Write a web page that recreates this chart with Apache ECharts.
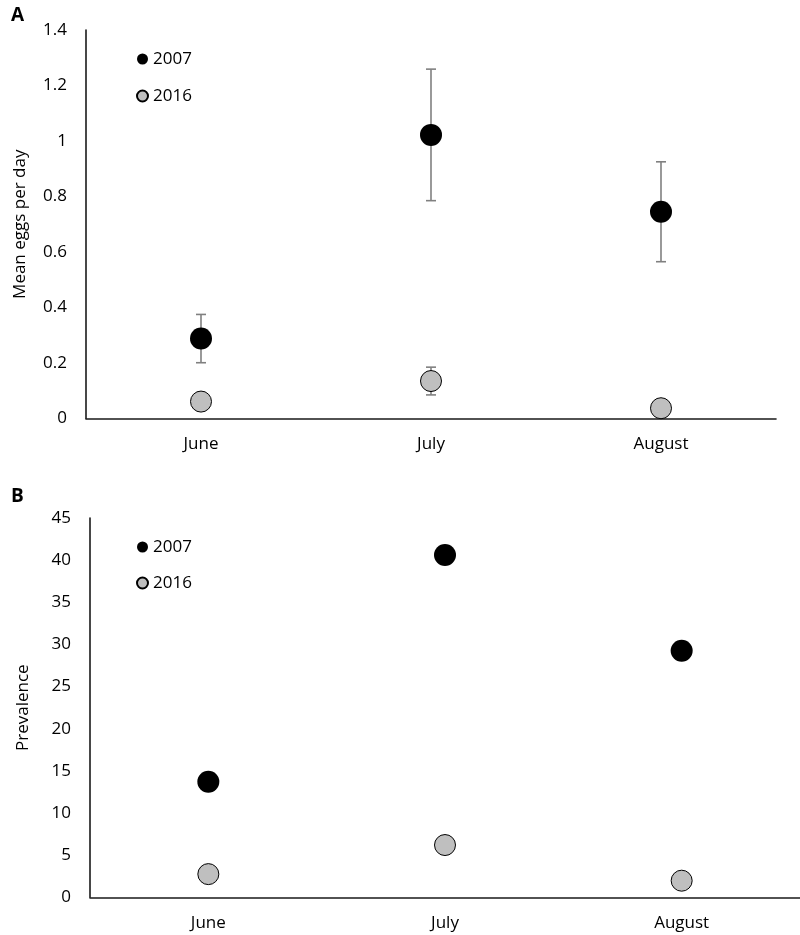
<!DOCTYPE html>
<html>
<head>
<meta charset="utf-8">
<script src="https://cdn.jsdelivr.net/npm/echarts@6/dist/echarts.min.js"></script>
<style>
html,body{margin:0;padding:0;background:#fff;}
#chart{width:800px;height:935px;}
</style>
</head>
<body>
<div id="chart"></div>
<script>
// ---- data ----
var months = ['June', 'July', 'August'];
var eggs2007 = [0.288, 1.022, 0.745];
var eggs2007Err = [0.087, 0.237, 0.18];
var eggs2016 = [0.061, 0.135, 0.037];
var eggs2016Err = [null, 0.05, null];
var prev2007 = [13.7, 40.6, 29.25];
var prev2016 = [2.75, 6.2, 1.97];
var eggsTicks = { min: 0, max: 1.4, interval: 0.2 };
var prevTicks = { min: 0, max: 45, interval: 5 };

var FONT = 'Open Sans';
var FS = 17;
var chart = echarts.init(document.getElementById('chart'), null, { renderer: 'canvas' });

function errData(vals, errs) {
  var out = [];
  for (var i = 0; i < vals.length; i++) {
    if (errs[i] != null) out.push([i, vals[i] - errs[i], vals[i] + errs[i]]);
  }
  return out;
}
function errRender(params, api) {
  var x = api.value(0);
  var lo = api.coord([x, api.value(1)]);
  var hi = api.coord([x, api.value(2)]);
  var w = 5;
  var st = { stroke: '#808080', lineWidth: 1.6 };
  return {
    type: 'group',
    children: [
      { type: 'line', shape: { x1: lo[0], y1: lo[1], x2: hi[0], y2: hi[1] }, style: st },
      { type: 'line', shape: { x1: lo[0] - w, y1: lo[1], x2: lo[0] + w, y2: lo[1] }, style: st },
      { type: 'line', shape: { x1: hi[0] - w, y1: hi[1], x2: hi[0] + w, y2: hi[1] }, style: st }
    ]
  };
}

function xAx(gi) {
  return {
    type: 'category', gridIndex: gi, data: months, boundaryGap: true,
    axisLine: { lineStyle: { color: '#1a1a1a', width: 1.6 } },
    axisTick: { show: false },
    axisLabel: { color: '#000', fontFamily: FONT, fontSize: FS, margin: 17 },
    splitLine: { show: false }
  };
}
function yAx(gi, t, name, gap) {
  return {
    type: 'value', gridIndex: gi, min: t.min, max: t.max, interval: t.interval,
    name: name, nameLocation: 'middle', nameGap: gap, nameRotate: 90,
    nameTextStyle: { color: '#000', fontFamily: FONT, fontSize: FS },
    axisLine: { show: true, lineStyle: { color: '#1a1a1a', width: 1.6 } },
    axisTick: { show: false },
    axisLabel: { color: '#000', fontFamily: FONT, fontSize: FS, margin: 19 },
    splitLine: { show: false }
  };
}
var s2007 = { color: '#000000', opacity: 1 };
var s2016 = { color: '#BFBFBF', borderColor: '#000', borderWidth: 1, opacity: 1 };

var option = {
  backgroundColor: '#fff',
  animation: false,
  textStyle: { fontFamily: FONT },
  title: [
    { text: 'A', left: 6, top: 1, textStyle: { fontFamily: FONT, fontSize: 19, fontWeight: 'bold', color: '#000' } },
    { text: 'B', left: 6, top: 482, textStyle: { fontFamily: FONT, fontSize: 19, fontWeight: 'bold', color: '#000' } }
  ],
  legend: [
    { orient: 'vertical', left: 131, top: 44, itemWidth: 11, itemHeight: 11, itemGap: 17, itemTextGap: 5, icon: 'circle',
      data: ['2007', '2016'], textStyle: { fontFamily: FONT, fontSize: FS, color: '#000', lineHeight: 20 }, selectedMode: false },
    { orient: 'vertical', left: 131, top: 532, itemWidth: 11, itemHeight: 11, itemGap: 16, itemTextGap: 5, icon: 'circle',
      data: ['2007', '2016'], textStyle: { fontFamily: FONT, fontSize: FS, color: '#000', lineHeight: 20 }, selectedMode: false }
  ],
  grid: [
    { left: 86, top: 30, width: 690, height: 388.5 },
    { left: 90, top: 518, width: 711, height: 379.3 }
  ],
  xAxis: [xAx(0), xAx(1)],
  yAxis: [yAx(0, eggsTicks, 'Mean eggs per day', 57), yAx(1, prevTicks, 'Prevalence', 58)],
  series: [
    { type: 'custom', xAxisIndex: 0, yAxisIndex: 0, renderItem: errRender, data: errData(eggs2007, eggs2007Err), z: 1, silent: true },
    { type: 'custom', xAxisIndex: 0, yAxisIndex: 0, renderItem: errRender, data: errData(eggs2016, eggs2016Err), z: 1, silent: true },
    { name: '2007', type: 'scatter', xAxisIndex: 0, yAxisIndex: 0, data: eggs2007, symbolSize: 22, itemStyle: s2007, z: 3 },
    { name: '2016', type: 'scatter', xAxisIndex: 0, yAxisIndex: 0, data: eggs2016, symbolSize: 21, itemStyle: s2016, z: 3 },
    { name: '2007', type: 'scatter', xAxisIndex: 1, yAxisIndex: 1, data: prev2007, symbolSize: 22, itemStyle: s2007, z: 3 },
    { name: '2016', type: 'scatter', xAxisIndex: 1, yAxisIndex: 1, data: prev2016, symbolSize: 21, itemStyle: s2016, z: 3 }
  ]
};
chart.setOption(option);
</script>
</body>
</html>
